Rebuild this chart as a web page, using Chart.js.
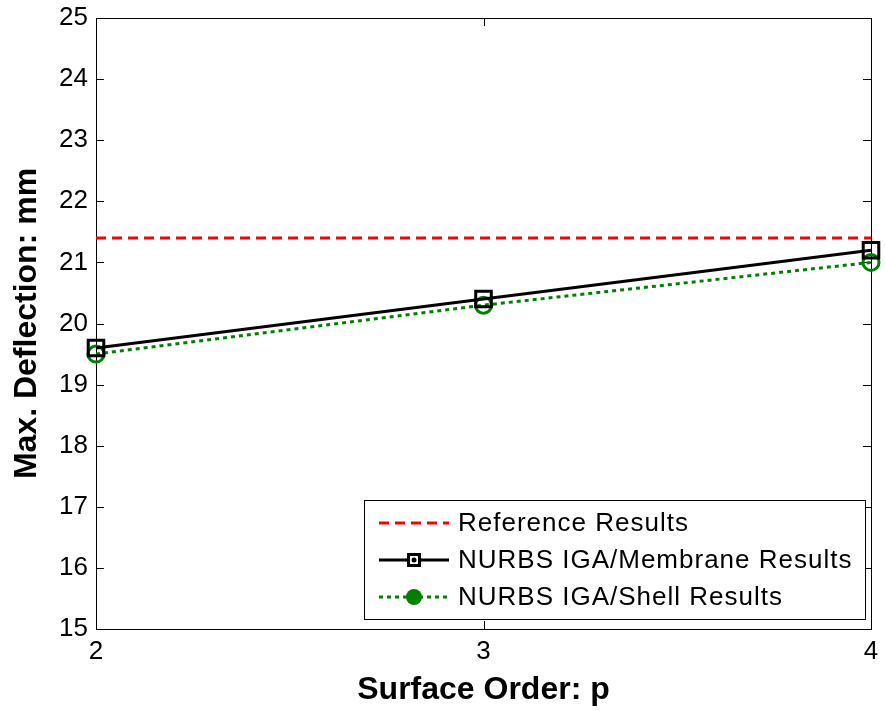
<!DOCTYPE html>
<html>
<head>
<meta charset="utf-8">
<script src="https://cdn.jsdelivr.net/npm/chart.js@4.4.0/dist/chart.umd.min.js"></script>
<style>
  html, body { margin: 0; padding: 0; background: #fff; }
  #wrap { width: 885px; height: 711px; }
</style>
</head>
<body>
<div id="wrap"><canvas id="mychart" width="885" height="711"></canvas></div>
<script>
// surface order p on the x axis
let orders = [2, 3, 4];
let yTicks = [15, 16, 17, 18, 19, 20, 21, 22, 23, 24, 25];

// max deflection values (mm)
let referenceVals = [21.4, 21.4, 21.4];
let membraneVals = [19.6, 20.4, 21.2];
let shellVals = [19.5, 20.3, 21.0];

let seriesNames = ["Reference Results", "NURBS IGA/Membrane Results", "NURBS IGA/Shell Results"];

const FONT = "'Liberation Sans', Arial, sans-serif";

function pts(vals) {
  return orders.map((o, i) => ({ x: o, y: vals[i] }));
}

// matlab style box + inward ticks
const boxPlugin = {
  id: "box",
  beforeDatasetsDraw(chart) {
    let ctx = chart.ctx;
    let a = chart.chartArea;
    let xs = chart.scales.x;
    let ys = chart.scales.y;
    ctx.save();
    ctx.strokeStyle = "#000";
    ctx.lineWidth = 1;
    ctx.strokeRect(a.left + 0.5, a.top + 0.5, a.right - a.left, a.bottom - a.top);
    ctx.beginPath();
    yTicks.forEach((t) => {
      let py = Math.round(ys.getPixelForValue(t)) + 0.5;
      ctx.moveTo(a.left, py); ctx.lineTo(a.left + 8, py);
      ctx.moveTo(a.right, py); ctx.lineTo(a.right - 8, py);
    });
    orders.forEach((t) => {
      let px = Math.round(xs.getPixelForValue(t)) + 0.5;
      ctx.moveTo(px, a.bottom); ctx.lineTo(px, a.bottom - 8);
      ctx.moveTo(px, a.top); ctx.lineTo(px, a.top + 8);
    });
    ctx.stroke();
    ctx.restore();
  },
};

// legend box inside the plot, bottom right
const legendPlugin = {
  id: "boxLegend",
  afterDraw(chart) {
    let ctx = chart.ctx;
    let x0 = 364, y0 = 500, w = 501, h = 119;
    ctx.save();
    ctx.fillStyle = "#fff";
    ctx.fillRect(x0, y0, w, h);
    ctx.strokeStyle = "#000";
    ctx.lineWidth = 1;
    ctx.strokeRect(x0 + 0.5, y0 + 0.5, w, h);
    let rows = [523, 560, 597];
    ctx.font = "26px " + FONT;
    ctx.letterSpacing = "1px";
    ctx.textBaseline = "middle";
    chart.data.datasets.forEach((ds, i) => {
      let y = rows[i];
      ctx.save();
      ctx.strokeStyle = ds.borderColor;
      ctx.lineWidth = ds.borderWidth;
      ctx.setLineDash(ds.borderDash || []);
      ctx.beginPath();
      ctx.moveTo(379, y); ctx.lineTo(449, y);
      ctx.stroke();
      ctx.setLineDash([]);
      if (ds.pointStyle === "rect") {
        ctx.fillStyle = "#000";
        ctx.fillRect(407, y - 7, 14, 14);
        ctx.fillStyle = "#fff";
        ctx.fillRect(410, y - 4, 8, 8);
        ctx.fillStyle = "#000";
        ctx.beginPath(); ctx.arc(414, y, 2.5, 0, Math.PI * 2); ctx.fill();
      } else if (ds.pointStyle === "circle") {
        ctx.fillStyle = ds.pointBorderColor;
        ctx.beginPath(); ctx.arc(414, y, 8, 0, Math.PI * 2); ctx.fill();
      }
      ctx.restore();
      ctx.fillStyle = "#000";
      ctx.fillText(seriesNames[i], 458, y + 1);
    });
    ctx.restore();
  },
};

let data = {
  datasets: [
    {
      label: seriesNames[0],
      data: pts(referenceVals),
      borderColor: "#ff0000",
      borderWidth: 3,
      borderDash: [10, 6],
      pointRadius: 0,
      pointStyle: false,
      clip: false,
    },
    {
      label: seriesNames[1],
      data: pts(membraneVals),
      borderColor: "#000000",
      borderWidth: 3,
      pointStyle: "rect",
      pointRadius: 11,
      pointBorderWidth: 3,
      pointBorderColor: "#000000",
      pointBackgroundColor: "rgba(0,0,0,0)",
      clip: false,
    },
    {
      label: seriesNames[2],
      data: pts(shellVals),
      borderColor: "#008000",
      borderWidth: 3,
      borderDash: [4, 4],
      pointStyle: "circle",
      pointRadius: 8,
      pointBorderWidth: 3,
      pointBorderColor: "#008000",
      pointBackgroundColor: "rgba(0,0,0,0)",
      clip: false,
    },
  ],
};

let options = {
  responsive: false,
  animation: false,
  layout: { padding: { top: 18, right: 8, left: 8, bottom: 0 } },
  plugins: {
    legend: { display: false },
    tooltip: { enabled: false },
  },
  scales: {
    x: {
      type: "linear",
      min: 2,
      max: 4,
      afterBuildTicks: (s) => { s.ticks = orders.map((v) => ({ value: v })); },
      grid: { display: false, drawTicks: false },
      border: { display: false },
      ticks: { color: "#000", font: { size: 26, family: FONT }, padding: 7 },
      title: {
        display: true,
        text: "Surface Order: p",
        color: "#000",
        font: { size: 32, weight: "bold", family: FONT },
        padding: { top: 0, bottom: 2 },
      },
      afterFit: (s) => { s.height = 82; s.paddingLeft = 0; s.paddingRight = 0; },
    },
    y: {
      type: "linear",
      min: 15,
      max: 25,
      afterBuildTicks: (s) => { s.ticks = yTicks.map((v) => ({ value: v })); },
      grid: { display: false, drawTicks: false },
      border: { display: false },
      ticks: { color: "#000", font: { size: 26, family: FONT }, padding: 8 },
      title: {
        display: true,
        text: "Max. Deflection: mm",
        color: "#000",
        font: { size: 32, weight: "bold", family: FONT },
        padding: { top: 0, bottom: 2 },
      },
      afterFit: (s) => { s.width = 88; s.paddingTop = 0; s.paddingBottom = 0; },
    },
  },
};

const config = {
  type: "line",
  data: data,
  options: options,
  plugins: [boxPlugin, legendPlugin],
};
let myChart = new Chart(document.getElementById("mychart"), config);
</script>
</body>
</html>
